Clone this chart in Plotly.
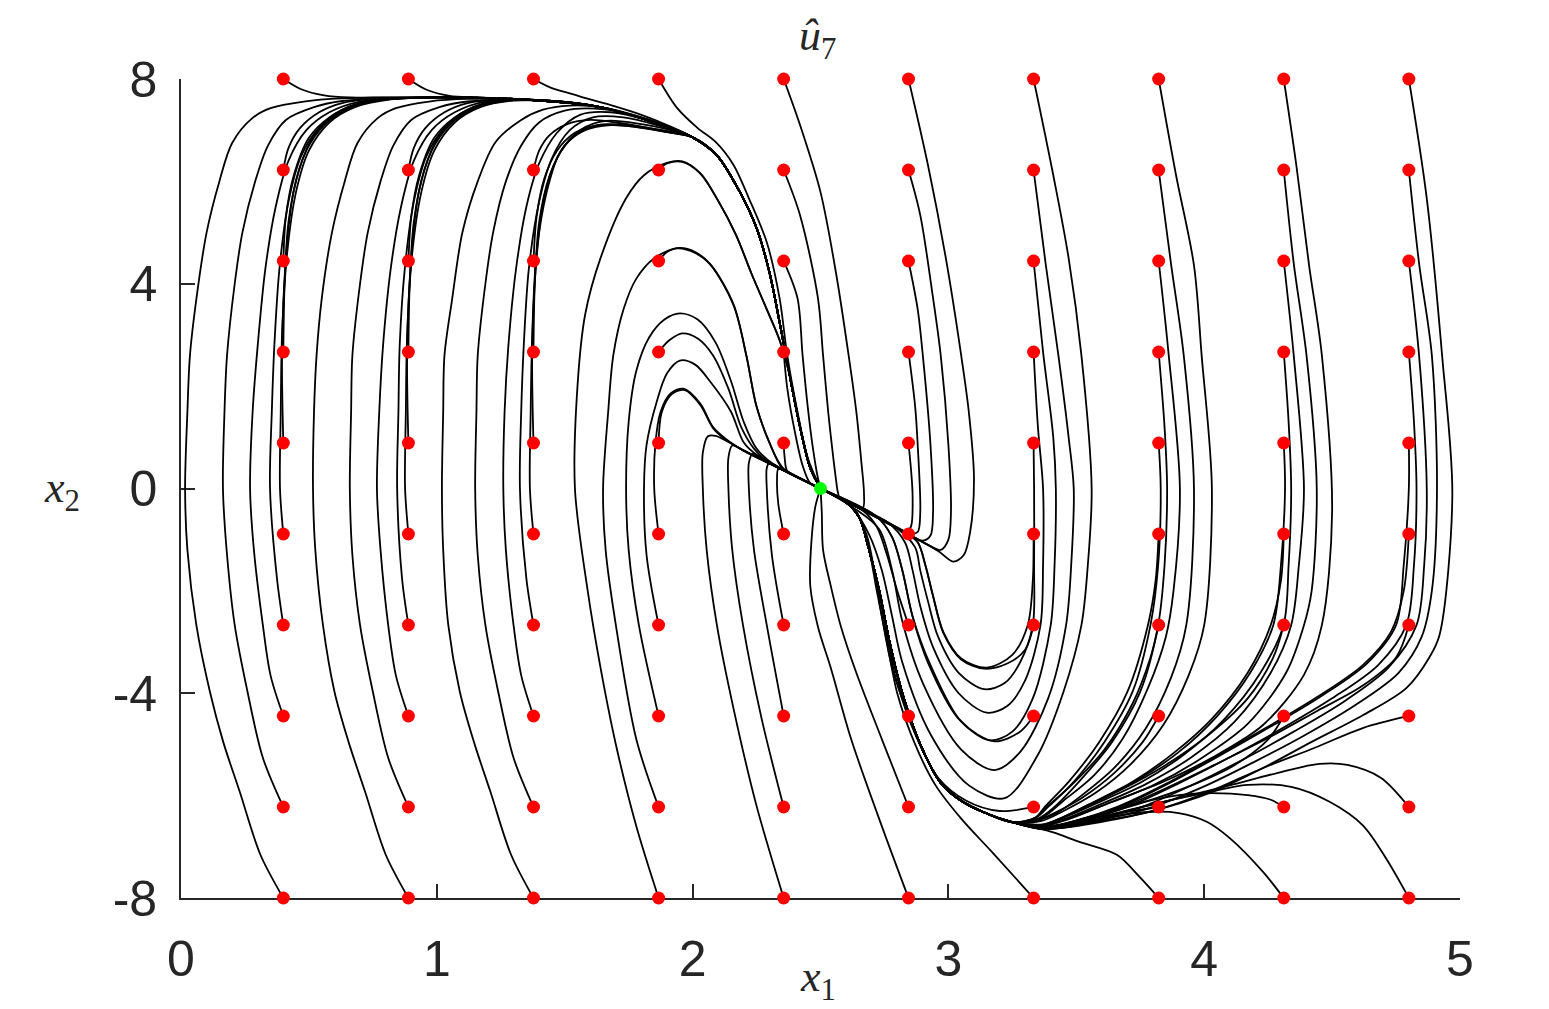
import plotly.graph_objects as go

# ---- grid of initial states (red dots) and equilibrium (green dot) ----
X1_START = [0.4, 0.889, 1.378, 1.867, 2.356, 2.844, 3.333, 3.822, 4.311, 4.8]
X2_START = [8.0, 6.222, 4.444, 2.667, 0.889, -0.889, -2.667, -4.444, -6.222, -8.0]
EQUILIBRIUM = [2.5, 0.0]

X_TICKS = [0, 1, 2, 3, 4, 5]
X_TICK_TEXT = ["0", "1", "2", "3", "4", "5"]
Y_TICKS = [-8, -4, 0, 4, 8]
Y_TICK_TEXT = ["-8", "-4", "0", "4", "8"]

# ---- shared pieces of trajectories ----
RIDGE_C1 = [(1.0, 7.64), (1.25, 7.62), (1.45, 7.56), (1.64, 7.45), (1.82, 7.2)]
RIDGE_C2 = [(1.45, 7.57), (1.64, 7.45), (1.82, 7.2)]
DOWN_TAIL = [(2.0, 6.86), (2.095, 6.51), (2.185, 5.79), (2.25, 5.09), (2.30, 4.23),
             (2.34, 3.25), (2.38, 2.2), (2.42, 1.2), (2.46, 0.4), (2.5, 0.0)]
TROUGH_TAIL = [(3.25, -6.52), (3.15, -6.35), (3.05, -6.1), (2.97, -5.75), (2.89, -5.0),
               (2.82, -4.0), (2.77, -3.0), (2.73, -2.0), (2.69, -1.2), (2.65, -0.55),
               (2.6, -0.27), (2.5, 0.0)]

# rows order in each column: 8, 6.22, 4.44, 2.67, 0.89, -0.89, -2.67, -4.44, -6.22, -8
PATHS_C1 = [
    [(0.47, 7.8), (0.56, 7.68), (0.66, 7.64), (0.8, 7.64)],
    [(0.42, 6.65), (0.465, 7.04), (0.54, 7.35), (0.63, 7.53), (0.78, 7.62)],
    [(0.41, 5.3), (0.44, 6.1), (0.5, 6.85), (0.58, 7.25), (0.68, 7.5), (0.8, 7.6)],
    [(0.405, 4.0), (0.42, 5.2), (0.46, 6.2), (0.52, 6.9), (0.61, 7.32), (0.72, 7.53), (0.85, 7.62)],
    [(0.395, 2.67), (0.41, 4.5), (0.44, 5.8), (0.49, 6.6), (0.56, 7.1), (0.66, 7.43), (0.8, 7.6)],
    [(0.387, 0), (0.39, 1.5), (0.395, 3.0), (0.415, 4.6), (0.45, 5.8), (0.5, 6.6), (0.58, 7.15), (0.68, 7.45), (0.82, 7.6)],
    [(0.375, -1.75), (0.348, 0), (0.355, 1.5), (0.365, 2.8), (0.385, 4.3), (0.42, 5.6), (0.47, 6.5), (0.54, 7.05), (0.63, 7.4), (0.75, 7.58)],
    [(0.35, -3.65), (0.32, -2.67), (0.285, -1.2), (0.27, 0), (0.28, 1.5), (0.3, 2.8), (0.33, 4.3), (0.37, 5.5), (0.42, 6.4), (0.49, 7.0), (0.58, 7.35), (0.7, 7.56)],
    [(0.32, -5.26), (0.26, -3.97), (0.21, -2.67), (0.18, -1.3), (0.164, 0), (0.17, 1.5), (0.18, 2.6), (0.21, 4.0), (0.24, 5.0), (0.29, 6.0), (0.34, 6.7), (0.41, 7.2), (0.52, 7.45), (0.63, 7.57)],
    [(0.31, -7.15), (0.23, -5.93), (0.165, -4.95), (0.113, -3.97), (0.06, -2.67), (0.025, -1.2), (0.016, 0), (0.025, 1.5), (0.035, 2.6), (0.06, 3.7), (0.10, 5.0), (0.15, 6.0), (0.20, 6.75), (0.28, 7.24), (0.35, 7.43), (0.48, 7.56), (0.63, 7.62)],
]

PATHS_C2 = [
    [(0.96, 7.79), (1.05, 7.67), (1.15, 7.64), (1.28, 7.62)],
    [(0.91, 6.65), (0.955, 7.04), (1.03, 7.35), (1.12, 7.53), (1.25, 7.6)],
    [(0.9, 5.3), (0.93, 6.1), (0.99, 6.85), (1.07, 7.25), (1.17, 7.5), (1.28, 7.59)],
    [(0.894, 4.0), (0.91, 5.2), (0.95, 6.2), (1.01, 6.9), (1.1, 7.32), (1.21, 7.53), (1.32, 7.6)],
    [(0.884, 2.67), (0.9, 4.5), (0.93, 5.8), (0.98, 6.6), (1.05, 7.1), (1.15, 7.43), (1.28, 7.58)],
    [(0.876, 0), (0.879, 1.5), (0.884, 3.0), (0.904, 4.6), (0.94, 5.8), (0.99, 6.6), (1.07, 7.15), (1.17, 7.45), (1.3, 7.58)],
    [(0.864, -1.75), (0.845, 0), (0.85, 1.5), (0.855, 2.8), (0.875, 4.3), (0.91, 5.6), (0.96, 6.5), (1.03, 7.05), (1.12, 7.4), (1.24, 7.57)],
    [(0.84, -3.65), (0.81, -2.67), (0.78, -1.2), (0.766, 0), (0.775, 1.5), (0.79, 2.8), (0.82, 4.3), (0.86, 5.5), (0.91, 6.4), (0.98, 7.0), (1.07, 7.35), (1.19, 7.56)],
    [(0.81, -5.26), (0.75, -3.97), (0.70, -2.67), (0.67, -1.3), (0.66, 0), (0.665, 1.5), (0.67, 2.6), (0.70, 4.0), (0.73, 5.0), (0.78, 6.0), (0.83, 6.7), (0.9, 7.2), (1.01, 7.45), (1.12, 7.56)],
    [(0.8, -7.15), (0.72, -5.93), (0.655, -4.95), (0.6, -3.97), (0.555, -2.67), (0.525, -1.2), (0.516, 0), (0.52, 1.5), (0.53, 2.6), (0.55, 3.7), (0.59, 5.0), (0.64, 6.0), (0.69, 6.75), (0.77, 7.24), (0.84, 7.43), (0.97, 7.56), (1.12, 7.61)],
]

PATHS_C3 = [
    [(1.45, 7.82), (1.52, 7.72), (1.6, 7.6), (1.68, 7.49), (1.8, 7.3), (1.9, 7.1)],
    [(1.40, 6.6), (1.44, 6.9), (1.51, 7.12), (1.6, 7.2), (1.7, 7.15), (1.85, 7.02)],
    [(1.39, 5.3), (1.42, 6.05), (1.47, 6.6), (1.54, 6.95), (1.63, 7.1), (1.75, 7.08), (1.88, 6.98)],
    [(1.383, 4.0), (1.40, 5.2), (1.44, 6.1), (1.5, 6.7), (1.58, 7.0), (1.68, 7.1), (1.8, 7.05), (1.9, 6.96)],
    [(1.373, 2.67), (1.39, 4.5), (1.42, 5.7), (1.47, 6.45), (1.54, 6.9), (1.63, 7.1), (1.75, 7.1), (1.88, 7.0)],
    [(1.364, 0), (1.367, 1.5), (1.373, 3.0), (1.39, 4.6), (1.43, 5.8), (1.48, 6.55), (1.56, 7.0), (1.66, 7.18), (1.8, 7.12), (1.9, 7.02)],
    [(1.35, -1.75), (1.325, 0), (1.33, 1.5), (1.34, 2.8), (1.36, 4.3), (1.40, 5.6), (1.45, 6.45), (1.52, 7.0), (1.61, 7.25), (1.73, 7.25), (1.86, 7.1)],
    [(1.33, -3.65), (1.30, -2.67), (1.27, -1.2), (1.26, 0), (1.265, 1.5), (1.28, 2.8), (1.31, 4.3), (1.35, 5.5), (1.40, 6.35), (1.47, 6.95), (1.56, 7.3), (1.68, 7.35), (1.82, 7.2)],
    [(1.30, -5.26), (1.24, -3.97), (1.19, -2.67), (1.16, -1.3), (1.15, 0), (1.155, 1.5), (1.16, 2.6), (1.19, 4.0), (1.22, 5.0), (1.27, 6.0), (1.33, 6.7), (1.4, 7.15), (1.5, 7.38), (1.62, 7.42), (1.78, 7.28)],
    [(1.29, -7.15), (1.21, -5.93), (1.145, -4.95), (1.09, -3.97), (1.045, -2.67), (1.025, -1.2), (1.02, 0), (1.025, 1.5), (1.03, 2.6), (1.06, 3.7), (1.10, 5.0), (1.16, 6.0), (1.23, 6.77), (1.33, 7.2), (1.415, 7.4), (1.52, 7.48), (1.64, 7.45), (1.8, 7.25)],
]

PATHS_C4 = [
    [(1.94, 7.43), (2.02, 7.04), (2.09, 6.77), (2.16, 6.32), (2.22, 5.67), (2.29, 4.81), (2.34, 3.72), (2.37, 2.6), (2.41, 1.5), (2.45, 0.6), (2.5, 0.0)],
    [(1.9, 6.35), (1.96, 6.38), (2.03, 6.16), (2.1, 5.62), (2.17, 4.95), (2.23, 4.2), (2.29, 3.5), (2.34, 2.9), (2.38, 2.2), (2.42, 1.2), (2.46, 0.4), (2.5, 0.0)],
    [(1.9, 4.62), (1.95, 4.7), (2.01, 4.62), (2.07, 4.38), (2.16, 3.6), (2.21, 2.6), (2.25, 1.6), (2.3, 0.9), (2.35, 0.4), (2.42, 0.2), (2.5, 0.0)],
    [(1.91, 2.9), (1.96, 3.03), (2.02, 2.93), (2.08, 2.6), (2.14, 1.95), (2.19, 1.2), (2.24, 0.78), (2.3, 0.5), (2.4, 0.25), (2.5, 0.0)],
    [(1.88, 1.5), (1.92, 1.85), (1.97, 1.92), (2.03, 1.63), (2.08, 1.18), (2.13, 0.95), (2.2, 0.74), (2.3, 0.49), (2.4, 0.25), (2.5, 0.0)],
    [(1.85, 0), (1.855, 0.9), (1.875, 1.5), (1.915, 1.86), (1.965, 1.95), (2.03, 1.66), (2.08, 1.2), (2.13, 0.97), (2.2, 0.74), (2.3, 0.49), (2.4, 0.25), (2.5, 0.0)],
    [(1.82, -1.3), (1.81, 0), (1.82, 0.85), (1.86, 1.7), (1.9, 2.25), (1.95, 2.5), (2.01, 2.42), (2.07, 2.08), (2.15, 1.5), (2.2, 0.9), (2.25, 0.66), (2.35, 0.37), (2.5, 0.0)],
    [(1.79, -2.67), (1.75, -1.2), (1.74, 0), (1.75, 1.3), (1.78, 2.3), (1.83, 2.95), (1.89, 3.3), (1.95, 3.42), (2.02, 3.3), (2.09, 2.85), (2.15, 2.1), (2.2, 1.3), (2.25, 0.78), (2.32, 0.46), (2.5, 0.0)],
    [(1.78, -4.9), (1.70, -2.67), (1.66, -1.2), (1.65, 0), (1.67, 1.5), (1.69, 2.6), (1.73, 3.5), (1.78, 4.1), (1.85, 4.5), (1.94, 4.69), (2.01, 4.6), (2.07, 4.37), (2.16, 3.58), (2.21, 2.6), (2.25, 1.6), (2.3, 0.9), (2.35, 0.42), (2.42, 0.2), (2.5, 0.0)],
    [(1.78, -6.6), (1.70, -5.0), (1.64, -3.5), (1.59, -2.0), (1.54, 0), (1.55, 2.0), (1.58, 3.4), (1.64, 4.5), (1.74, 5.67), (1.81, 6.12), (1.9, 6.36), (1.96, 6.39), (2.03, 6.15), (2.1, 5.62), (2.17, 4.95), (2.23, 4.2), (2.29, 3.5), (2.34, 2.9), (2.38, 2.2), (2.42, 1.2), (2.46, 0.4), (2.5, 0.0)],
]

PATHS_C5 = [
    [(2.42, 7.1), (2.5, 5.79), (2.56, 4.23), (2.61, 2.6), (2.64, 1.5), (2.66, 0.5), (2.67, -0.1), (2.665, -0.38), (2.6, -0.25), (2.5, 0.0)],
    [(2.42, 5.34), (2.49, 3.72), (2.51, 2.6), (2.53, 1.5), (2.55, 0.6), (2.565, 0.0), (2.57, -0.17), (2.54, -0.1), (2.5, 0.0)],
    [(2.41, 3.72), (2.43, 2.6), (2.45, 1.6), (2.47, 0.8), (2.49, 0.2), (2.5, 0.0)],
    [(2.37, 1.96), (2.4, 1.1), (2.43, 0.45), (2.46, 0.1), (2.5, 0.0)],
    [(2.36, 0.6), (2.37, 0.34), (2.42, 0.2), (2.5, 0.0)],
    [(2.335, -0.3), (2.33, 0.15), (2.335, 0.38), (2.36, 0.35), (2.42, 0.2), (2.5, 0.0)],
    [(2.31, -1.3), (2.29, 0), (2.29, 0.4), (2.3, 0.5), (2.34, 0.41), (2.42, 0.2), (2.5, 0.0)],
    [(2.29, -2.67), (2.24, -1.2), (2.22, 0), (2.22, 0.5), (2.235, 0.68), (2.28, 0.56), (2.4, 0.25), (2.5, 0.0)],
    [(2.27, -4.5), (2.197, -2.67), (2.155, -1.2), (2.14, 0), (2.14, 0.6), (2.155, 0.84), (2.2, 0.74), (2.3, 0.49), (2.5, 0.0)],
    [(2.25, -6.2), (2.16, -4.3), (2.095, -2.67), (2.055, -1.2), (2.04, 0), (2.04, 0.7), (2.06, 1.02), (2.09, 1.03), (2.2, 0.74), (2.3, 0.49), (2.5, 0.0)],
]

PATHS_C6 = [
    [(2.92, 6.32), (2.99, 4.5), (3.05, 2.6), (3.08, 1.49), (3.1, 0.2), (3.085, -0.85), (3.06, -1.3), (3.02, -1.43), (2.96, -1.22), (2.81, -0.8), (2.65, -0.38), (2.5, 0.0)],
    [(2.89, 5.34), (2.94, 3.72), (2.97, 2.6), (3.0, 0.85), (3.01, -0.46), (3.0, -1.0), (2.97, -1.2), (2.92, -1.1), (2.81, -0.8), (2.65, -0.38), (2.5, 0.0)],
    [(2.88, 3.5), (2.9, 2.6), (2.93, 0.85), (2.94, -0.46), (2.93, -0.92), (2.9, -1.02), (2.81, -0.8), (2.65, -0.38), (2.5, 0.0)],
    [(2.87, 1.6), (2.88, 0.85), (2.89, -0.46), (2.88, -0.85), (2.85, -0.88), (2.81, -0.8), (2.65, -0.38), (2.5, 0.0)],
    [(2.855, 0.3), (2.86, -0.13), (2.855, -0.72), (2.84, -0.84), (2.81, -0.8), (2.65, -0.38), (2.5, 0.0)],
    [(2.81, -0.8), (2.65, -0.38), (2.5, 0.0)],
    [(2.8, -2.0), (2.76, -1.3), (2.72, -0.75), (2.67, -0.45), (2.6, -0.26), (2.5, 0.0)],
    [(2.78, -3.5), (2.74, -2.5), (2.71, -1.6), (2.68, -0.9), (2.63, -0.4), (2.5, 0.0)],
    [(2.74, -4.9), (2.64, -3.6), (2.58, -2.7), (2.54, -1.9), (2.51, -1.2), (2.505, -0.46), (2.5, 0.0)],
    [(2.74, -6.6), (2.62, -4.9), (2.54, -3.5), (2.49, -2.7), (2.46, -1.9), (2.465, -1.0), (2.48, -0.35), (2.5, 0.0)],
]

PATHS_C7 = [
    [(3.41, 6.12), (3.47, 4.5), (3.52, 2.6), (3.56, 0), (3.545, -1.5), (3.52, -2.67), (3.45, -3.97), (3.35, -5.2), (3.22, -6.05), (3.08, -5.8), (2.93, -4.8), (2.82, -3.4), (2.78, -2.5), (2.74, -1.6), (2.69, -0.9), (2.62, -0.36), (2.5, 0.0)],
    [(3.38, 4.4), (3.43, 2.6), (3.47, 1.0), (3.49, 0), (3.48, -1.5), (3.46, -2.67), (3.39, -4.1), (3.28, -5.15), (3.18, -5.5), (3.05, -5.1), (2.9, -3.8), (2.82, -2.6), (2.78, -1.6), (2.73, -0.8), (2.63, -0.38), (2.5, 0.0)],
    [(3.37, 2.67), (3.41, 1.0), (3.42, 0), (3.415, -1.5), (3.4, -2.67), (3.33, -4.1), (3.25, -4.75), (3.16, -4.92), (3.04, -4.5), (2.92, -3.4), (2.86, -2.5), (2.82, -1.6), (2.78, -0.95), (2.72, -0.55), (2.5, 0.0)],
    [(3.35, 1.2), (3.37, 0), (3.37, -1.5), (3.36, -2.67), (3.3, -3.75), (3.23, -4.25), (3.15, -4.38), (3.04, -4.0), (2.94, -3.1), (2.89, -2.3), (2.86, -1.6), (2.83, -1.05), (2.76, -0.65), (2.65, -0.38), (2.5, 0.0)],
    [(3.335, 0), (3.335, -1.5), (3.33, -2.67), (3.28, -3.4), (3.22, -3.8), (3.14, -3.92), (3.04, -3.6), (2.96, -2.9), (2.92, -2.2), (2.89, -1.6), (2.87, -1.15), (2.8, -0.78), (2.65, -0.38), (2.5, 0.0)],
    [(3.33, -1.8), (3.31, -2.67), (3.25, -3.25), (3.15, -3.5), (3.05, -3.32), (2.98, -2.8), (2.94, -2.1), (2.91, -1.5), (2.88, -1.05), (2.82, -0.82), (2.65, -0.38), (2.5, 0.0)],
    [(3.3, -3.15), (3.23, -3.42), (3.14, -3.52), (3.05, -3.34), (2.98, -2.82), (2.94, -2.1), (2.91, -1.5), (2.88, -1.05), (2.82, -0.82), (2.65, -0.38), (2.5, 0.0)],
    [(3.28, -4.75), (3.18, -4.94), (3.05, -4.55), (2.93, -3.45), (2.86, -2.5), (2.82, -1.6), (2.78, -0.95), (2.72, -0.55), (2.5, 0.0)],
    [(3.2, -6.3), (3.07, -6.1), (2.96, -5.65), (2.87, -4.8), (2.8, -3.8), (2.76, -2.9), (2.73, -2.0), (2.69, -1.2), (2.65, -0.55), (2.6, -0.27), (2.5, 0.0)],
    [(3.17, -7.1), (3.05, -6.45), (2.95, -5.8), (2.87, -5.0), (2.8, -4.0), (2.76, -3.0), (2.72, -2.0), (2.69, -1.2), (2.65, -0.55), (2.6, -0.27), (2.5, 0.0)],
]

PATHS_C8 = [
    [(3.89, 6.12), (3.96, 4.36), (3.99, 2.6), (4.03, 0), (4.0, -2.67), (3.94, -3.64), (3.84, -4.62), (3.71, -5.4), (3.58, -5.93), (3.45, -6.3), (3.36, -6.5)],
    [(3.87, 4.4), (3.92, 2.6), (3.96, 0), (3.93, -2.67), (3.87, -3.7), (3.77, -4.7), (3.65, -5.45), (3.52, -6.0), (3.42, -6.35), (3.35, -6.48)],
    [(3.86, 2.67), (3.905, 0), (3.88, -2.0), (3.85, -2.9), (3.78, -3.9), (3.68, -4.9), (3.57, -5.6), (3.45, -6.1), (3.36, -6.45)],
    [(3.845, 1.2), (3.855, 0), (3.845, -1.5), (3.82, -2.67), (3.75, -3.97), (3.64, -4.95), (3.51, -5.73), (3.41, -6.24), (3.35, -6.45)],
    [(3.83, 0), (3.82, -1.5), (3.79, -2.67), (3.72, -3.97), (3.61, -4.95), (3.49, -5.73), (3.39, -6.22), (3.34, -6.44)],
    [(3.81, -1.8), (3.78, -2.67), (3.7, -3.97), (3.59, -4.95), (3.47, -5.73), (3.38, -6.2), (3.34, -6.43)],
    [(3.79, -3.3), (3.72, -4.2), (3.61, -5.1), (3.48, -5.8), (3.38, -6.24), (3.34, -6.44)],
    [(3.76, -4.95), (3.65, -5.55), (3.52, -6.05), (3.41, -6.35), (3.35, -6.48)],
    [(3.68, -6.33), (3.52, -6.5), (3.42, -6.6), (3.34, -6.58)],
    [(3.74, -7.55), (3.66, -7.16), (3.51, -6.9), (3.41, -6.72), (3.34, -6.62)],
]

PATHS_C9 = [
    [(4.36, 6.32), (4.41, 4.36), (4.46, 2.6), (4.5, -0.46), (4.46, -2.67), (4.39, -3.64), (4.23, -4.62), (4.03, -5.26), (3.84, -5.73), (3.64, -6.12), (3.47, -6.46), (3.36, -6.6)],
    [(4.35, 4.4), (4.4, 2.6), (4.44, 0), (4.42, -2.0), (4.39, -2.67), (4.32, -3.6), (4.17, -4.6), (3.98, -5.3), (3.8, -5.8), (3.6, -6.2), (3.45, -6.48), (3.36, -6.6)],
    [(4.35, 2.6), (4.39, 0), (4.37, -1.5), (4.34, -2.67), (4.26, -3.6), (4.12, -4.55), (3.95, -5.25), (3.77, -5.78), (3.58, -6.2), (3.44, -6.48), (3.36, -6.59)],
    [(4.33, 1.3), (4.34, 0), (4.33, -1.5), (4.31, -2.67), (4.22, -3.6), (4.08, -4.5), (3.92, -5.2), (3.75, -5.75), (3.57, -6.17), (3.43, -6.47), (3.36, -6.59)],
    [(4.316, 0), (4.3, -1.5), (4.27, -2.67), (4.18, -3.6), (4.05, -4.45), (3.9, -5.15), (3.73, -5.72), (3.56, -6.15), (3.43, -6.46), (3.36, -6.58)],
    [(4.3, -1.8), (4.26, -2.67), (4.17, -3.6), (4.03, -4.5), (3.88, -5.17), (3.72, -5.73), (3.55, -6.17), (3.43, -6.47), (3.36, -6.59)],
    [(4.27, -3.3), (4.17, -4.1), (4.02, -4.8), (3.85, -5.4), (3.67, -5.9), (3.5, -6.3), (3.38, -6.55)],
    [(4.25, -4.9), (4.12, -5.4), (3.95, -5.8), (3.75, -6.15), (3.55, -6.42), (3.4, -6.59)],
    [(4.26, -6.08), (4.17, -5.99), (4.03, -5.95), (3.9, -5.99), (3.7, -6.2), (3.52, -6.47), (3.38, -6.62)],
    [(4.23, -7.49), (4.10, -6.83), (4.01, -6.51), (3.9, -6.34), (3.78, -6.32), (3.6, -6.45), (3.46, -6.62), (3.37, -6.64)],
]

PATHS_C10 = [
    [(4.87, 5.67), (4.93, 2.6), (4.97, -0.13), (4.92, -2.86), (4.88, -3.3), (4.79, -3.9), (4.62, -4.43), (4.42, -4.95), (4.23, -5.46), (4.03, -5.93), (3.78, -6.32), (3.58, -6.51), (3.44, -6.63), (3.37, -6.66)],
    [(4.84, 4.4), (4.89, 2.6), (4.91, 0), (4.89, -2.0), (4.85, -2.9), (4.76, -3.6), (4.6, -4.2), (4.4, -4.8), (4.2, -5.33), (4.0, -5.82), (3.77, -6.27), (3.57, -6.5), (3.44, -6.62), (3.37, -6.65)],
    [(4.84, 2.6), (4.87, 0), (4.86, -1.5), (4.83, -2.67), (4.72, -3.5), (4.55, -4.15), (4.35, -4.75), (4.15, -5.3), (3.95, -5.8), (3.74, -6.25), (3.55, -6.5), (3.43, -6.62), (3.37, -6.65)],
    [(4.82, 1.3), (4.83, 0), (4.82, -1.5), (4.79, -2.67), (4.68, -3.45), (4.5, -4.1), (4.3, -4.7), (4.1, -5.25), (3.9, -5.76), (3.7, -6.22), (3.53, -6.49), (3.42, -6.62), (3.37, -6.64)],
    [(4.8, 0), (4.78, -1.5), (4.75, -2.67), (4.64, -3.4), (4.46, -4.05), (4.26, -4.65), (4.06, -5.22), (3.87, -5.74), (3.68, -6.2), (3.51, -6.48), (3.41, -6.61), (3.37, -6.63)],
    [(4.78, -2.0), (4.73, -2.8), (4.62, -3.45), (4.44, -4.08), (4.24, -4.68), (4.04, -5.25), (3.85, -5.77), (3.66, -6.22), (3.5, -6.49), (3.38, -6.62)],
    [(4.75, -3.3), (4.62, -3.85), (4.44, -4.35), (4.24, -4.9), (4.04, -5.4), (3.84, -5.88), (3.64, -6.3), (3.48, -6.53), (3.38, -6.62)],
    [(4.62, -4.68), (4.43, -5.07), (4.23, -5.46), (4.03, -5.9), (3.8, -6.3), (3.59, -6.52), (3.44, -6.63), (3.37, -6.65)],
    [(4.69, -5.65), (4.56, -5.4), (4.45, -5.38), (4.30, -5.54), (4.1, -5.8), (3.9, -6.05), (3.71, -6.28), (3.54, -6.5), (3.43, -6.62), (3.37, -6.64)],
    [(4.71, -7.22), (4.62, -6.58), (4.49, -6.12), (4.34, -5.83), (4.17, -5.79), (4.0, -5.95), (3.84, -6.12), (3.65, -6.35), (3.49, -6.55), (3.38, -6.64)],
]

COLUMN_PATHS = [PATHS_C1, PATHS_C2, PATHS_C3, PATHS_C4, PATHS_C5,
                PATHS_C6, PATHS_C7, PATHS_C8, PATHS_C9, PATHS_C10]
COLUMN_TAILS = [RIDGE_C1 + DOWN_TAIL, RIDGE_C2 + DOWN_TAIL, DOWN_TAIL, [], [], [], [],
                TROUGH_TAIL, TROUGH_TAIL, TROUGH_TAIL]

fig = go.Figure()

for c, paths in enumerate(COLUMN_PATHS):
    for r, pts in enumerate(paths):
        full = [(X1_START[c], X2_START[r])] + list(pts) + list(COLUMN_TAILS[c])
        fig.add_trace(go.Scatter(
            x=[p[0] for p in full], y=[p[1] for p in full],
            mode="lines",
            line=dict(color="black", width=1.8, shape="spline", smoothing=0.9),
            hoverinfo="skip", showlegend=False, cliponaxis=False,
        ))

dot_x = [x for x in X1_START for _ in X2_START]
dot_y = [y for _ in X1_START for y in X2_START]
fig.add_trace(go.Scatter(x=dot_x, y=dot_y, mode="markers",
                         marker=dict(color="#ff0000", size=13, line=dict(width=0)),
                         cliponaxis=False, showlegend=False, hoverinfo="skip"))
fig.add_trace(go.Scatter(x=[EQUILIBRIUM[0]], y=[EQUILIBRIUM[1]], mode="markers",
                         marker=dict(color="#00ff00", size=13, line=dict(width=0)),
                         cliponaxis=False, showlegend=False, hoverinfo="skip"))

axis_common = dict(
    showgrid=False, zeroline=False, showline=True, linecolor="#262626", linewidth=1.6,
    ticks="inside", ticklen=14, tickwidth=1.6, tickcolor="#262626",
    tickfont=dict(family="Liberation Sans, Arial, sans-serif", size=50, color="#262626"),
    layer="below traces", mirror=False, automargin=False,
)

# page body has an 8 px margin, so the figure is slightly smaller than the window
fig.update_layout(
    width=1541, height=1001,
    margin=dict(l=173, r=89, t=71, b=111),
    plot_bgcolor="white", paper_bgcolor="white",
    showlegend=False,
    xaxis=dict(range=[0, 5], tickmode="array", tickvals=X_TICKS, ticktext=X_TICK_TEXT,
               ticklabelstandoff=16, **axis_common),
    yaxis=dict(range=[-8, 8], tickmode="array", tickvals=Y_TICKS, ticktext=Y_TICK_TEXT,
               ticklabelstandoff=12, **axis_common),
    annotations=[
        dict(text="<i>û</i><sub>7</sub>", x=0.498, y=1.05, xref="paper", yref="paper",
             showarrow=False, xanchor="center", yanchor="middle",
             font=dict(family="Liberation Serif, serif", size=44, color="#262626")),
        dict(text="<i>x</i><sub>1</sub>", x=0.498, y=-0.1, xref="paper", yref="paper",
             showarrow=False, xanchor="center", yanchor="middle",
             font=dict(family="Liberation Serif, serif", size=44, color="#262626")),
        dict(text="<i>x</i><sub>2</sub>", x=-0.093, y=0.498, xref="paper", yref="paper",
             showarrow=False, xanchor="center", yanchor="middle",
             font=dict(family="Liberation Serif, serif", size=44, color="#262626")),
    ],
)

fig.write_html("out.html")
